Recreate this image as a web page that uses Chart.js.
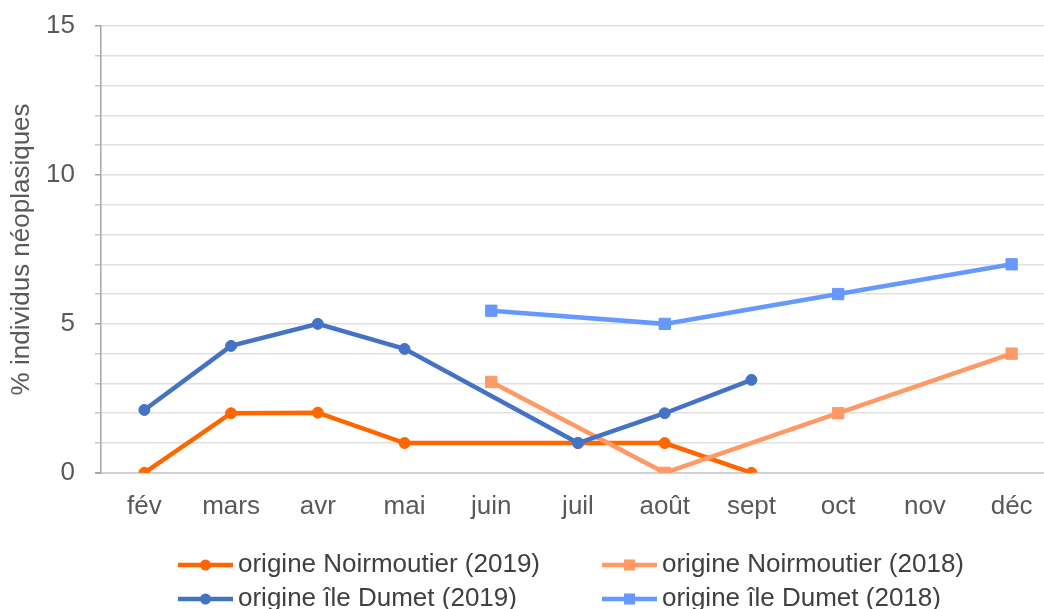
<!DOCTYPE html>
<html lang="fr">
<head>
<meta charset="utf-8">
<title>% individus néoplasiques</title>
<script src="https://cdn.jsdelivr.net/npm/chart.js@4/dist/chart.umd.min.js"></script>
<style>
  html, body { margin: 0; padding: 0; background: #ffffff; overflow: hidden; }
  canvas { display: block; }
</style>
</head>
<body>
<canvas id="c" width="1064" height="609"></canvas>
<script>
// Months of sampling
const months = ['fév', 'mars', 'avr', 'mai', 'juin', 'juil', 'août', 'sept', 'oct', 'nov', 'déc'];

// % of neoplastic individuals per month (null = not sampled)
const noirmoutier2019 = [0, 2, 2.02, 1, null, 1, 1, 0, null, null, null];
const noirmoutier2018 = [null, null, null, null, 3.05, null, 0, null, 2, null, 4];
const dumet2019 = [2.11, 4.26, 5, 4.16, null, 1, 2, 3.12, null, null, null];
const dumet2018 = [null, null, null, null, 5.44, null, 5, null, 6, null, 7];

// Y axis range and labelled ticks
const yMin = 0;
const yMax = 15;
const yLabelled = [0, 5, 10, 15];

const FONT = '"Liberation Sans", Arial, sans-serif';

function series(label, data, color, style, order) {
  return {
    label: label,
    data: data,
    borderColor: color,
    backgroundColor: color,
    pointBackgroundColor: color,
    pointBorderColor: color,
    pointBorderWidth: 1,
    pointStyle: style,
    pointRadius: style === 'rect' ? 8 : 5.5,
    pointHoverRadius: style === 'rect' ? 8 : 5.5,
    borderWidth: 4.5,
    tension: 0,
    spanGaps: true,
    order: order
  };
}

// Two-column legend drawn under the plot
const columnLegend = {
  id: 'columnLegend',
  afterDraw(chart) {
    const ctx = chart.ctx;
    const cols = [178, 602];
    const rows = [565, 599];
    ctx.save();
    chart.data.datasets.forEach((ds, i) => {
      const x = cols[i % 2];
      const y = rows[Math.floor(i / 2)];
      ctx.strokeStyle = ds.borderColor;
      ctx.lineWidth = 4.5;
      ctx.lineCap = 'butt';
      ctx.beginPath();
      ctx.moveTo(x, y);
      ctx.lineTo(x + 55, y);
      ctx.stroke();
      ctx.fillStyle = ds.borderColor;
      const cx = x + 27.5;
      if (ds.pointStyle === 'rect') {
        ctx.fillRect(cx - 5.5, y - 5.5, 11, 11);
      } else {
        ctx.beginPath();
        ctx.arc(cx, y, 5.5, 0, Math.PI * 2);
        ctx.fill();
      }
      ctx.fillStyle = '#404040';
      ctx.font = '26px ' + FONT;
      ctx.textBaseline = 'middle';
      ctx.textAlign = 'left';
      ctx.fillText(ds.label, x + 60, y);
    });
    ctx.restore();
  }
};

new Chart(document.getElementById('c'), {
  type: 'line',
  data: {
    labels: months,
    datasets: [
      series('origine Noirmoutier (2019)', noirmoutier2019, '#FF6600', 'circle', 4),
      series('origine Noirmoutier (2018)', noirmoutier2018, '#FF9966', 'rect', 3),
      series('origine île Dumet (2019)', dumet2019, '#4472C4', 'circle', 2),
      series('origine île Dumet (2018)', dumet2018, '#6699FF', 'rect', 1)
    ]
  },
  options: {
    responsive: false,
    animation: false,
    layout: { padding: { left: 2, right: 1, top: 2, bottom: 69 } },
    plugins: {
      legend: { display: false },
      tooltip: { enabled: false }
    },
    scales: {
      x: {
        offset: true,
        grid: { display: false, drawTicks: false },
        border: { display: false },
        ticks: {
          color: '#595959',
          font: { family: FONT, size: 26 },
          padding: 18,
          maxRotation: 0,
          autoSkip: false
        }
      },
      y: {
        min: yMin,
        max: yMax,
        afterFit: (scale) => { scale.width = 99; scale.paddingTop = 26; },
        grid: {
          color: (c) => c.tick && c.tick.value === 0 ? '#d0d0d0' : '#e0e0e0',
          lineWidth: (c) => c.tick && c.tick.value === 0 ? 2 : 1.5,
          tickColor: (c) => c.tick && yLabelled.includes(c.tick.value) ? '#a6a6a6' : '#c8c8c8',
          tickLength: 6,
          drawTicks: true
        },
        border: { display: true, color: '#a6a6a6', width: 1.5 },
        ticks: {
          stepSize: 1,
          autoSkip: false,
          color: '#595959',
          font: { family: FONT, size: 26 },
          padding: 20,
          callback: (v) => yLabelled.includes(v) ? String(v) : ''
        },
        title: {
          display: true,
          text: '% individus néoplasiques',
          color: '#595959',
          font: { family: FONT, size: 26 },
          padding: { top: 4, bottom: 9 }
        }
      }
    }
  },
  plugins: [columnLegend]
});
</script>
</body>
</html>
